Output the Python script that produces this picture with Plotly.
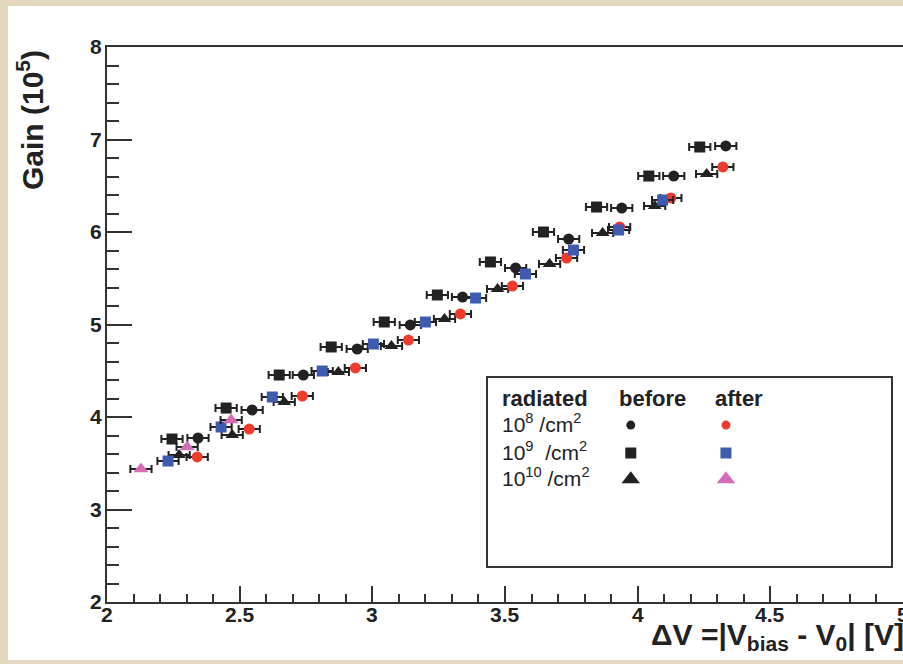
import plotly.graph_objects as go

# ---------------- data ----------------
x_c_before = [2.343, 2.547, 2.740, 2.943, 3.143, 3.340, 3.540, 3.740, 3.940, 4.136, 4.332]
y_c_before = [3.773, 4.076, 4.454, 4.735, 4.995, 5.297, 5.611, 5.924, 6.259, 6.605, 6.930]

x_c_after = [2.340, 2.536, 2.736, 2.936, 3.136, 3.332, 3.528, 3.732, 3.932, 4.125, 4.321]
y_c_after = [3.568, 3.870, 4.227, 4.530, 4.832, 5.114, 5.416, 5.719, 6.054, 6.368, 6.703]

x_s_before = [2.245, 2.449, 2.649, 2.845, 3.045, 3.245, 3.445, 3.645, 3.845, 4.042, 4.234]
y_s_before = [3.762, 4.097, 4.454, 4.757, 5.027, 5.319, 5.676, 6.000, 6.270, 6.605, 6.919]

x_s_after = [2.230, 2.430, 2.623, 2.811, 3.004, 3.200, 3.389, 3.577, 3.758, 3.928, 4.094]
y_s_after = [3.524, 3.892, 4.216, 4.497, 4.789, 5.027, 5.286, 5.546, 5.805, 6.022, 6.346]

x_t_before = [2.272, 2.472, 2.668, 2.872, 3.072, 3.272, 3.472, 3.668, 3.868, 4.064, 4.260]
y_t_before = [3.589, 3.805, 4.162, 4.486, 4.768, 5.059, 5.384, 5.654, 5.989, 6.281, 6.627]

x_t_after = [2.128, 2.302, 2.468]
y_t_after = [3.438, 3.676, 3.968]

x_err = 0.04

x_ticks = [2, 2.5, 3, 3.5, 4, 4.5, 5]
x_ticklabels = ["2", "2.5", "3", "3.5", "4", "4.5", "5"]
y_ticks = [2, 3, 4, 5, 6, 7, 8]
y_ticklabels = ["2", "3", "4", "5", "6", "7", "8"]

legend_rows = ["10<sup>8</sup> /cm<sup>2</sup>", "10<sup>9</sup>  /cm<sup>2</sup>", "10<sup>10</sup> /cm<sup>2</sup>"]
legend_header = ["radiated", "before", "after"]

# ---------------- styles ----------------
BLACK = "#222222"
RED = "#ee3b2b"
BLUE = "#3f5bb0"
PINK = "#d46db5"
FONT = "Liberation Sans, Arial, sans-serif"

W, H = 903, 664
ML, MR, MT, MB = 107, 0, 47, 62
PW, PH = W - ML - MR, H - MT - MB


def px_x(p):
    return (p - ML) / PW


def px_y(p):
    return (H - MB - p) / PH


fig = go.Figure()

series = [
    (x_c_before, y_c_before, "circle", BLACK, 11),
    (x_s_before, y_s_before, "square", BLACK, 11),
    (x_t_before, y_t_before, "triangle-up", BLACK, 12),
    (x_c_after, y_c_after, "circle", RED, 11),
    (x_s_after, y_s_after, "square", BLUE, 11),
    (x_t_after, y_t_after, "triangle-up", PINK, 13),
]
for xs, ys, sym, col, sz in series:
    fig.add_trace(go.Scatter(
        x=xs, y=ys, mode="markers",
        marker=dict(symbol=sym, color=col, size=sz, line=dict(width=0)),
        error_x=dict(type="constant", value=x_err, color=BLACK, thickness=2, width=4),
        showlegend=False, hoverinfo="skip",
    ))

# legend keys drawn on a small auxiliary axis pair covering the legend box
leg_x0, leg_x1 = px_x(487), px_x(892)
leg_y0, leg_y1 = px_y(567), px_y(377)
col_before, col_after = 0.355, 0.59
row_y = [0.747, 0.600, 0.462]
leg_keys = [
    ("circle", BLACK, RED, 9),
    ("square", BLACK, BLUE, 11),
    ("triangle-up", BLACK, PINK, 16),
]
for (sym, cb, ca, sz), ry in zip(leg_keys, row_y):
    fig.add_trace(go.Scatter(
        x=[col_before, col_after], y=[ry, ry], mode="markers",
        marker=dict(symbol=sym, color=[cb, ca], size=sz, line=dict(width=0)),
        xaxis="x2", yaxis="y2", showlegend=False, hoverinfo="skip",
    ))

shapes = [
    # white panel on the beige page
    dict(type="rect", xref="paper", yref="paper",
         x0=px_x(8), x1=px_x(905), y0=px_y(660), y1=px_y(6),
         fillcolor="white", line=dict(width=0), layer="below"),
    # legend frame
    dict(type="rect", xref="x2 domain", yref="y2 domain",
         x0=0, x1=1, y0=0, y1=1, line=dict(color="#333333", width=2),
         fillcolor="rgba(0,0,0,0)", layer="above"),
]

annotations = [
    dict(text="<b>Gain (10<sup>5</sup>)</b>", xref="paper", yref="paper",
         x=px_x(30), y=px_y(120), textangle=-90, showarrow=False,
         xanchor="center", yanchor="middle",
         font=dict(family=FONT, size=30, color=BLACK)),
    dict(text="<b>ΔV =|V<sub>bias</sub> - V<sub>0</sub>| [V]</b>", xref="paper", yref="paper",
         x=px_x(906), y=px_y(616), showarrow=False,
         xanchor="right", yanchor="top", bgcolor="rgba(0,0,0,0)",
         font=dict(family=FONT, size=30, color=BLACK)),
]
# x tick labels placed on the x scale (ROOT-style, close under the axis)
for tv, tl in zip(x_ticks, x_ticklabels):
    annotations.append(dict(text="<b>" + tl + "</b>", xref="x", yref="paper",
                            x=tv, y=px_y(601), showarrow=False,
                            xanchor="center", yanchor="top", bgcolor="rgba(0,0,0,0)",
                            font=dict(family=FONT, size=21, color=BLACK)))
for txt, lx in zip(legend_header, [0.032, 0.321, 0.558]):
    annotations.append(dict(text="<b>" + txt + "</b>", xref="x2", yref="y2",
                            x=lx, y=0.889, showarrow=False, xanchor="left", yanchor="middle",
                            font=dict(family=FONT, size=22, color=BLACK)))
for txt, ry in zip(legend_rows, row_y):
    annotations.append(dict(text=txt, xref="x2", yref="y2",
                            x=0.032, y=ry + 0.01, showarrow=False, xanchor="left", yanchor="middle",
                            font=dict(family=FONT, size=21, color=BLACK)))

fig.update_layout(
    width=W, height=H,
    margin=dict(l=ML, r=MR, t=MT, b=MB, autoexpand=False),
    paper_bgcolor="#e4d7bf",
    plot_bgcolor="white",
    shapes=shapes,
    annotations=annotations,
    xaxis=dict(
        range=[2, 5], tickvals=x_ticks, showticklabels=False,
        ticks="inside", ticklen=16, tickwidth=2, tickcolor="#333333",
        showline=True, linecolor="#333333", linewidth=2, mirror=True,
        showgrid=False, zeroline=False, automargin=False,
        minor=dict(dtick=0.1, ticks="inside", ticklen=8, tickwidth=1.5, tickcolor="#333333", showgrid=False),
    ),
    yaxis=dict(
        range=[2, 8], tickvals=y_ticks, ticktext=y_ticklabels,
        ticks="inside", ticklen=25, tickwidth=2, tickcolor="#333333",
        showline=True, linecolor="#333333", linewidth=2, mirror=False,
        showgrid=False, zeroline=False, ticklabelstandoff=-1, automargin=False,
        tickfont=dict(family=FONT, size=21, color=BLACK, weight="bold"),
        minor=dict(dtick=0.2, ticks="inside", ticklen=12, tickwidth=1.5, tickcolor="#333333", showgrid=False),
    ),
    xaxis2=dict(domain=[leg_x0, leg_x1], range=[0, 1], visible=False, anchor="y2"),
    yaxis2=dict(domain=[leg_y0, leg_y1], range=[0, 1], visible=False, anchor="x2"),
)

fig.write_html("out.html")
